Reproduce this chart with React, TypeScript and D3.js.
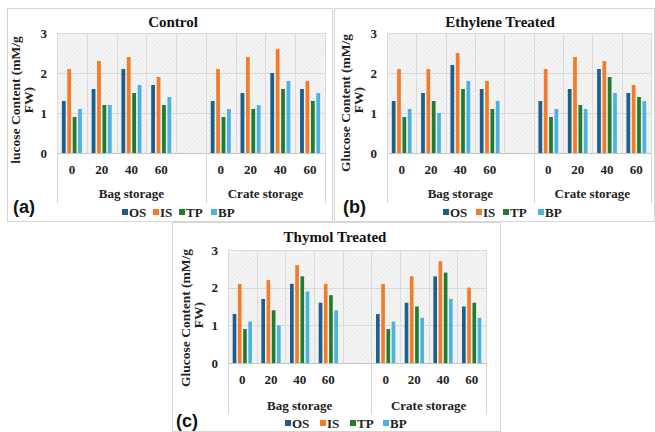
import React from "react";
import * as d3 from "d3";

const slots = ["B0", "B20", "B40", "B60", "Bgap", "C0", "C20", "C40", "C60"];
const catLabels = ["0", "20", "40", "60", "", "0", "20", "40", "60"];
const dataSlots = ["B0", "B20", "B40", "B60", "C0", "C20", "C40", "C60"];
const groupLabels = ["Bag storage", "Crate storage"];
const groupSpans = [["B0", "Bgap"], ["C0", "C60"]];
const seriesNames = ["OS", "IS", "TP", "BP"];
const seriesColors = ["#1d5e8a", "#f47b27", "#1f7d32", "#4cb2e2"];
const yTicks = [0, 1, 2, 3];

const controlOS = [1.3, 1.6, 2.1, 1.7, 1.3, 1.5, 2.0, 1.6];
const controlIS = [2.1, 2.3, 2.4, 1.9, 2.1, 2.4, 2.6, 1.8];
const controlTP = [0.9, 1.2, 1.5, 1.2, 0.9, 1.1, 1.6, 1.3];
const controlBP = [1.1, 1.2, 1.7, 1.4, 1.1, 1.2, 1.8, 1.5];

const ethyleneOS = [1.3, 1.5, 2.2, 1.6, 1.3, 1.6, 2.1, 1.5];
const ethyleneIS = [2.1, 2.1, 2.5, 1.8, 2.1, 2.4, 2.3, 1.7];
const ethyleneTP = [0.9, 1.3, 1.6, 1.1, 0.9, 1.2, 1.9, 1.4];
const ethyleneBP = [1.1, 1.0, 1.8, 1.3, 1.1, 1.1, 1.5, 1.3];

const thymolOS = [1.3, 1.7, 2.1, 1.6, 1.3, 1.6, 2.3, 1.5];
const thymolIS = [2.1, 2.2, 2.6, 2.1, 2.1, 2.3, 2.7, 2.0];
const thymolTP = [0.9, 1.4, 2.3, 1.8, 0.9, 1.5, 2.4, 1.6];
const thymolBP = [1.1, 1.0, 1.9, 1.4, 1.1, 1.2, 1.7, 1.2];

type PanelCfg = {
  id: string;
  box: [number, number, number, number];
  plot: { left: number; right: number; top: number; bottom: number };
  title: string;
  titleX: number;
  titleY: number;
  yLabel1: string;
  yLabel2: string;
  yl1: [number, number];
  yl2: [number, number];
  catY: number;
  groupY: number;
  extY: number;
  legendX: number;
  legendY: number;
  legendOffsets: number[];
  letter: string;
  letterPos: [number, number];
  values: number[][];
};

const panels: PanelCfg[] = [
  {
    id: "a",
    box: [7, 8, 332, 221],
    plot: { left: 57, right: 325, top: 33, bottom: 153 },
    title: "Control",
    titleX: 173,
    titleY: 27,
    yLabel1: "lucose Content (mM/g",
    yLabel2: "FW)",
    yl1: [15, 100],
    yl2: [28, 100],
    catY: 174,
    groupY: 198,
    extY: 203,
    legendX: 122,
    legendY: 217,
    legendOffsets: [0, 31, 57, 89],
    letter: "(a)",
    letterPos: [13, 213],
    values: [controlOS, controlIS, controlTP, controlBP],
  },
  {
    id: "b",
    box: [334, 8, 654, 221],
    plot: { left: 387, right: 651, top: 33, bottom: 153 },
    title: "Ethylene Treated",
    titleX: 500,
    titleY: 27,
    yLabel1: "Glucose Content (mM/g",
    yLabel2: "FW)",
    yl1: [345, 103],
    yl2: [358, 100],
    catY: 174,
    groupY: 198,
    extY: 203,
    legendX: 443,
    legendY: 217,
    legendOffsets: [0, 33, 60, 95],
    letter: "(b)",
    letterPos: [343, 213],
    values: [ethyleneOS, ethyleneIS, ethyleneTP, ethyleneBP],
  },
  {
    id: "c",
    box: [172, 222, 500, 431],
    plot: { left: 228, right: 486, top: 250, bottom: 363 },
    title: "Thymol Treated",
    titleX: 335,
    titleY: 242,
    yLabel1: "Glucose Content (mM/g",
    yLabel2: "FW)",
    yl1: [185, 318],
    yl2: [198, 315],
    catY: 384,
    groupY: 410,
    extY: 414,
    legendX: 285,
    legendY: 428,
    legendOffsets: [0, 35, 65, 98],
    letter: "(c)",
    letterPos: [176, 427],
    values: [thymolOS, thymolIS, thymolTP, thymolBP],
  },
];

const serif = "Liberation Serif, DejaVu Serif, serif";

function Panel({ p }: { p: PanelCfg }) {
  const { left, right, top, bottom } = p.plot;
  const x = d3.scaleBand<string>().domain(slots).range([left, right]).padding(0);
  const xs = d3
    .scaleBand<string>()
    .domain(seriesNames)
    .range([0, x.bandwidth()])
    .paddingInner(0.3)
    .paddingOuter(0.9);
  const y = d3.scaleLinear().domain([0, 3]).range([bottom, top]);
  const [bx0, by0, bx1, by1] = p.box;
  const boundaries = slots.map((s) => x(s) as number).concat([right]);
  const extLines = [left, x("C0") as number, right];
  const txt = { fontFamily: serif, fontWeight: 700 as const, fill: "#222" };
  return (
    <g>
      <rect x={bx0 + 0.5} y={by0 + 0.5} width={bx1 - bx0} height={by1 - by0} fill="#ffffff" stroke="#d6d6d6" />
      <rect x={left} y={top} width={right - left} height={bottom - top} fill="url(#hatch)" />
      {yTicks.map((t) => (
        <line key={"h" + t} x1={left} x2={right} y1={Math.round(y(t)) + 0.5} y2={Math.round(y(t)) + 0.5} stroke={t === 0 ? "#c4c4c4" : "#d9d9d9"} strokeWidth={1} />
      ))}
      {boundaries.map((bx, i) => (
        <line key={"v" + i} x1={Math.round(bx) + 0.5} x2={Math.round(bx) + 0.5} y1={top} y2={bottom} stroke="#dadada" />
      ))}
      {extLines.map((ex, i) => (
        <line key={"e" + i} x1={Math.round(ex) + 0.5} x2={Math.round(ex) + 0.5} y1={bottom} y2={p.extY} stroke="#d4d4d4" />
      ))}
      {dataSlots.map((slot, ci) =>
        seriesNames.map((s, si) => {
          const v = p.values[si][ci];
          const bx = (x(slot) as number) + (xs(s) as number);
          return (
            <rect key={slot + s} x={bx} y={y(v)} width={xs.bandwidth()} height={y(0) - y(v)} fill={seriesColors[si]} />
          );
        })
      )}
      {yTicks.map((t) => (
        <text key={"yt" + t} x={left - 10} y={y(t)} dy="0.35em" textAnchor="end" fontSize={13} style={txt}>
          {t}
        </text>
      ))}
      {slots.map((s, i) => (
        <text key={"c" + s} x={(x(s) as number) + x.bandwidth() / 2} y={p.catY} textAnchor="middle" fontSize={13} style={txt}>
          {catLabels[i]}
        </text>
      ))}
      {groupLabels.map((g, i) => {
        const a = x(groupSpans[i][0]) as number;
        const b = (x(groupSpans[i][1]) as number) + x.bandwidth();
        return (
          <text key={"g" + i} x={(a + b) / 2} y={p.groupY} textAnchor="middle" fontSize={13} style={txt}>
            {g}
          </text>
        );
      })}
      <text x={p.titleX} y={p.titleY} textAnchor="middle" fontSize={15} style={{ ...txt, fill: "#111" }}>
        {p.title}
      </text>
      <text transform={`translate(${p.yl1[0]},${p.yl1[1]}) rotate(-90)`} textAnchor="middle" dy="0.35em" fontSize={13.5} style={txt}>
        {p.yLabel1}
      </text>
      <text transform={`translate(${p.yl2[0]},${p.yl2[1]}) rotate(-90)`} textAnchor="middle" dy="0.35em" fontSize={13.5} style={txt}>
        {p.yLabel2}
      </text>
      {seriesNames.map((s, i) => (
        <g key={"l" + s}>
          <rect x={p.legendX + p.legendOffsets[i]} y={p.legendY - 8} width={6} height={6} fill={seriesColors[i]} />
          <text x={p.legendX + p.legendOffsets[i] + 7} y={p.legendY} fontSize={13} style={txt}>
            {s}
          </text>
        </g>
      ))}
      <text x={p.letterPos[0]} y={p.letterPos[1]} fontSize={18} style={{ fontFamily: "Liberation Sans, Arial, sans-serif", fontWeight: 700, fill: "#111" }}>
        {p.letter}
      </text>
    </g>
  );
}

export default function App() {
  return (
    <svg width={655} height={432} style={{ position: "fixed", left: 0, top: 0, background: "#fff" }}>
      <defs>
        <pattern id="hatch" width={3} height={3} patternUnits="userSpaceOnUse" patternTransform="rotate(45)">
          <rect width={3} height={3} fill="#f5f5f5" />
          <line x1={0} y1={0} x2={0} y2={3} stroke="#e0e0e0" strokeWidth={1} />
        </pattern>
      </defs>
      {panels.map((p) => (
        <Panel key={p.id} p={p} />
      ))}
    </svg>
  );
}
